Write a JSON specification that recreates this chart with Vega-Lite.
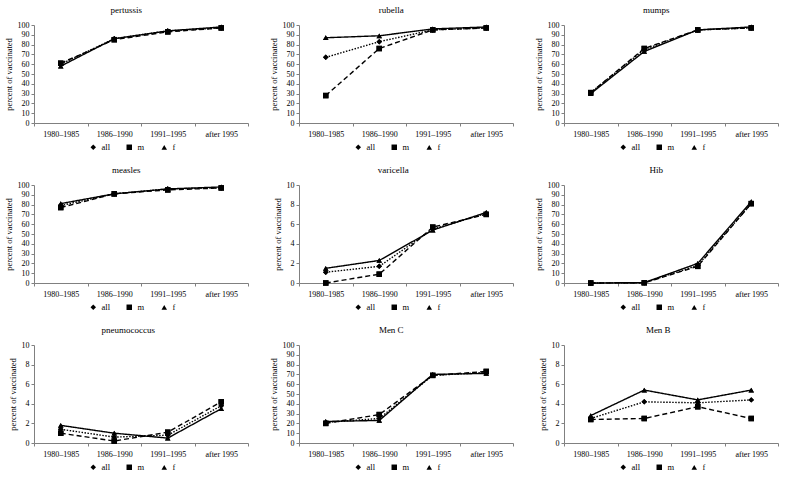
{
  "$schema": "https://vega.github.io/schema/vega-lite/v6.json",
  "description": "Vaccination coverage by birth cohort and sex",
  "padding": {"left": 4, "top": 6, "right": 4, "bottom": 2},
  "bounds": "flush",
  "columns": 3,
  "spacing": {"row": 62, "column": 51},
  "data": {
    "values": [
      {"vaccine": "pertussis", "period": "1980–1985", "group": "all", "pct": 60},
      {"vaccine": "pertussis", "period": "1986–1990", "group": "all", "pct": 86},
      {"vaccine": "pertussis", "period": "1991–1995", "group": "all", "pct": 94},
      {"vaccine": "pertussis", "period": "after 1995", "group": "all", "pct": 97},
      {"vaccine": "pertussis", "period": "1980–1985", "group": "m", "pct": 61},
      {"vaccine": "pertussis", "period": "1986–1990", "group": "m", "pct": 85},
      {"vaccine": "pertussis", "period": "1991–1995", "group": "m", "pct": 93},
      {"vaccine": "pertussis", "period": "after 1995", "group": "m", "pct": 97},
      {"vaccine": "pertussis", "period": "1980–1985", "group": "f", "pct": 58},
      {"vaccine": "pertussis", "period": "1986–1990", "group": "f", "pct": 86},
      {"vaccine": "pertussis", "period": "1991–1995", "group": "f", "pct": 94},
      {"vaccine": "pertussis", "period": "after 1995", "group": "f", "pct": 98},
      {"vaccine": "rubella", "period": "1980–1985", "group": "all", "pct": 67},
      {"vaccine": "rubella", "period": "1986–1990", "group": "all", "pct": 83},
      {"vaccine": "rubella", "period": "1991–1995", "group": "all", "pct": 95},
      {"vaccine": "rubella", "period": "after 1995", "group": "all", "pct": 97},
      {"vaccine": "rubella", "period": "1980–1985", "group": "m", "pct": 28},
      {"vaccine": "rubella", "period": "1986–1990", "group": "m", "pct": 76},
      {"vaccine": "rubella", "period": "1991–1995", "group": "m", "pct": 95},
      {"vaccine": "rubella", "period": "after 1995", "group": "m", "pct": 97},
      {"vaccine": "rubella", "period": "1980–1985", "group": "f", "pct": 87},
      {"vaccine": "rubella", "period": "1986–1990", "group": "f", "pct": 89},
      {"vaccine": "rubella", "period": "1991–1995", "group": "f", "pct": 96},
      {"vaccine": "rubella", "period": "after 1995", "group": "f", "pct": 98},
      {"vaccine": "mumps", "period": "1980–1985", "group": "all", "pct": 31},
      {"vaccine": "mumps", "period": "1986–1990", "group": "all", "pct": 75},
      {"vaccine": "mumps", "period": "1991–1995", "group": "all", "pct": 95},
      {"vaccine": "mumps", "period": "after 1995", "group": "all", "pct": 97},
      {"vaccine": "mumps", "period": "1980–1985", "group": "m", "pct": 31},
      {"vaccine": "mumps", "period": "1986–1990", "group": "m", "pct": 76},
      {"vaccine": "mumps", "period": "1991–1995", "group": "m", "pct": 95},
      {"vaccine": "mumps", "period": "after 1995", "group": "m", "pct": 97},
      {"vaccine": "mumps", "period": "1980–1985", "group": "f", "pct": 30},
      {"vaccine": "mumps", "period": "1986–1990", "group": "f", "pct": 73},
      {"vaccine": "mumps", "period": "1991–1995", "group": "f", "pct": 95},
      {"vaccine": "mumps", "period": "after 1995", "group": "f", "pct": 98},
      {"vaccine": "measles", "period": "1980–1985", "group": "all", "pct": 79},
      {"vaccine": "measles", "period": "1986–1990", "group": "all", "pct": 91},
      {"vaccine": "measles", "period": "1991–1995", "group": "all", "pct": 96},
      {"vaccine": "measles", "period": "after 1995", "group": "all", "pct": 97},
      {"vaccine": "measles", "period": "1980–1985", "group": "m", "pct": 77},
      {"vaccine": "measles", "period": "1986–1990", "group": "m", "pct": 91},
      {"vaccine": "measles", "period": "1991–1995", "group": "m", "pct": 95},
      {"vaccine": "measles", "period": "after 1995", "group": "m", "pct": 97},
      {"vaccine": "measles", "period": "1980–1985", "group": "f", "pct": 81},
      {"vaccine": "measles", "period": "1986–1990", "group": "f", "pct": 91},
      {"vaccine": "measles", "period": "1991–1995", "group": "f", "pct": 96},
      {"vaccine": "measles", "period": "after 1995", "group": "f", "pct": 98},
      {"vaccine": "varicella", "period": "1980–1985", "group": "all", "pct": 1.1},
      {"vaccine": "varicella", "period": "1986–1990", "group": "all", "pct": 1.7},
      {"vaccine": "varicella", "period": "1991–1995", "group": "all", "pct": 5.5},
      {"vaccine": "varicella", "period": "after 1995", "group": "all", "pct": 7.1},
      {"vaccine": "varicella", "period": "1980–1985", "group": "m", "pct": 0},
      {"vaccine": "varicella", "period": "1986–1990", "group": "m", "pct": 0.9},
      {"vaccine": "varicella", "period": "1991–1995", "group": "m", "pct": 5.7},
      {"vaccine": "varicella", "period": "after 1995", "group": "m", "pct": 7.0},
      {"vaccine": "varicella", "period": "1980–1985", "group": "f", "pct": 1.5},
      {"vaccine": "varicella", "period": "1986–1990", "group": "f", "pct": 2.3},
      {"vaccine": "varicella", "period": "1991–1995", "group": "f", "pct": 5.4},
      {"vaccine": "varicella", "period": "after 1995", "group": "f", "pct": 7.2},
      {"vaccine": "Hib", "period": "1980–1985", "group": "all", "pct": 0},
      {"vaccine": "Hib", "period": "1986–1990", "group": "all", "pct": 0.3},
      {"vaccine": "Hib", "period": "1991–1995", "group": "all", "pct": 18},
      {"vaccine": "Hib", "period": "after 1995", "group": "all", "pct": 81},
      {"vaccine": "Hib", "period": "1980–1985", "group": "m", "pct": 0},
      {"vaccine": "Hib", "period": "1986–1990", "group": "m", "pct": 0.2},
      {"vaccine": "Hib", "period": "1991–1995", "group": "m", "pct": 17},
      {"vaccine": "Hib", "period": "after 1995", "group": "m", "pct": 81},
      {"vaccine": "Hib", "period": "1980–1985", "group": "f", "pct": 0},
      {"vaccine": "Hib", "period": "1986–1990", "group": "f", "pct": 0.4},
      {"vaccine": "Hib", "period": "1991–1995", "group": "f", "pct": 20},
      {"vaccine": "Hib", "period": "after 1995", "group": "f", "pct": 83},
      {"vaccine": "pneumococcus", "period": "1980–1985", "group": "all", "pct": 1.4},
      {"vaccine": "pneumococcus", "period": "1986–1990", "group": "all", "pct": 0.6},
      {"vaccine": "pneumococcus", "period": "1991–1995", "group": "all", "pct": 0.8},
      {"vaccine": "pneumococcus", "period": "after 1995", "group": "all", "pct": 3.8},
      {"vaccine": "pneumococcus", "period": "1980–1985", "group": "m", "pct": 1.0},
      {"vaccine": "pneumococcus", "period": "1986–1990", "group": "m", "pct": 0.2},
      {"vaccine": "pneumococcus", "period": "1991–1995", "group": "m", "pct": 1.1},
      {"vaccine": "pneumococcus", "period": "after 1995", "group": "m", "pct": 4.2},
      {"vaccine": "pneumococcus", "period": "1980–1985", "group": "f", "pct": 1.8},
      {"vaccine": "pneumococcus", "period": "1986–1990", "group": "f", "pct": 1.0},
      {"vaccine": "pneumococcus", "period": "1991–1995", "group": "f", "pct": 0.5},
      {"vaccine": "pneumococcus", "period": "after 1995", "group": "f", "pct": 3.5},
      {"vaccine": "Men C", "period": "1980–1985", "group": "all", "pct": 21},
      {"vaccine": "Men C", "period": "1986–1990", "group": "all", "pct": 25},
      {"vaccine": "Men C", "period": "1991–1995", "group": "all", "pct": 69},
      {"vaccine": "Men C", "period": "after 1995", "group": "all", "pct": 72},
      {"vaccine": "Men C", "period": "1980–1985", "group": "m", "pct": 20},
      {"vaccine": "Men C", "period": "1986–1990", "group": "m", "pct": 29},
      {"vaccine": "Men C", "period": "1991–1995", "group": "m", "pct": 69},
      {"vaccine": "Men C", "period": "after 1995", "group": "m", "pct": 73},
      {"vaccine": "Men C", "period": "1980–1985", "group": "f", "pct": 22},
      {"vaccine": "Men C", "period": "1986–1990", "group": "f", "pct": 23},
      {"vaccine": "Men C", "period": "1991–1995", "group": "f", "pct": 70},
      {"vaccine": "Men C", "period": "after 1995", "group": "f", "pct": 71},
      {"vaccine": "Men B", "period": "1980–1985", "group": "all", "pct": 2.5},
      {"vaccine": "Men B", "period": "1986–1990", "group": "all", "pct": 4.2},
      {"vaccine": "Men B", "period": "1991–1995", "group": "all", "pct": 4.1},
      {"vaccine": "Men B", "period": "after 1995", "group": "all", "pct": 4.4},
      {"vaccine": "Men B", "period": "1980–1985", "group": "m", "pct": 2.4},
      {"vaccine": "Men B", "period": "1986–1990", "group": "m", "pct": 2.5},
      {"vaccine": "Men B", "period": "1991–1995", "group": "m", "pct": 3.7},
      {"vaccine": "Men B", "period": "after 1995", "group": "m", "pct": 2.5},
      {"vaccine": "Men B", "period": "1980–1985", "group": "f", "pct": 2.8},
      {"vaccine": "Men B", "period": "1986–1990", "group": "f", "pct": 5.4},
      {"vaccine": "Men B", "period": "1991–1995", "group": "f", "pct": 4.4},
      {"vaccine": "Men B", "period": "after 1995", "group": "f", "pct": 5.4}
    ]
  },
  "concat": [
    {
      "title": "pertussis",
      "width": 214, "height": 98,
      "transform": [{"filter": "datum.vaccine === 'pertussis'"}],
      "encoding": {
        "x": {"field": "period", "type": "ordinal", "sort": ["1980–1985", "1986–1990", "1991–1995", "after 1995"], "scale": {"type": "band", "paddingInner": 0, "paddingOuter": 0}, "bandPosition": 0.5, "axis": {"title": null, "labelAngle": 0, "tickBand": "extent"}},
        "y": {"field": "pct", "type": "quantitative", "scale": {"domain": [0, 100]}, "axis": {"values": [0, 10, 20, 30, 40, 50, 60, 70, 80, 90, 100], "title": "percent of vaccinated"}},
        "strokeDash": {"field": "group", "type": "nominal", "scale": {"domain": ["all", "m", "f"], "range": [[1.5, 1.5], [5, 3], [1, 0]]}, "legend": {"title": null}},
        "shape": {"field": "group", "type": "nominal", "scale": {"domain": ["all", "m", "f"], "range": ["diamond", "square", "triangle-up"]}, "legend": {"title": null}}
      },
      "layer": [
        {"mark": {"type": "line", "color": "black", "strokeWidth": 1.4}},
        {"mark": {"type": "point", "filled": true, "color": "black", "size": 30, "opacity": 1}}
      ]
    },
    {
      "title": "rubella",
      "width": 214, "height": 98,
      "transform": [{"filter": "datum.vaccine === 'rubella'"}],
      "encoding": {
        "x": {"field": "period", "type": "ordinal", "sort": ["1980–1985", "1986–1990", "1991–1995", "after 1995"], "scale": {"type": "band", "paddingInner": 0, "paddingOuter": 0}, "bandPosition": 0.5, "axis": {"title": null, "labelAngle": 0, "tickBand": "extent"}},
        "y": {"field": "pct", "type": "quantitative", "scale": {"domain": [0, 100]}, "axis": {"values": [0, 10, 20, 30, 40, 50, 60, 70, 80, 90, 100], "title": "percent of vaccinated"}},
        "strokeDash": {"field": "group", "type": "nominal", "scale": {"domain": ["all", "m", "f"], "range": [[1.5, 1.5], [5, 3], [1, 0]]}, "legend": {"title": null}},
        "shape": {"field": "group", "type": "nominal", "scale": {"domain": ["all", "m", "f"], "range": ["diamond", "square", "triangle-up"]}, "legend": {"title": null}}
      },
      "layer": [
        {"mark": {"type": "line", "color": "black", "strokeWidth": 1.4}},
        {"mark": {"type": "point", "filled": true, "color": "black", "size": 30, "opacity": 1}}
      ]
    },
    {
      "title": "mumps",
      "width": 214, "height": 98,
      "transform": [{"filter": "datum.vaccine === 'mumps'"}],
      "encoding": {
        "x": {"field": "period", "type": "ordinal", "sort": ["1980–1985", "1986–1990", "1991–1995", "after 1995"], "scale": {"type": "band", "paddingInner": 0, "paddingOuter": 0}, "bandPosition": 0.5, "axis": {"title": null, "labelAngle": 0, "tickBand": "extent"}},
        "y": {"field": "pct", "type": "quantitative", "scale": {"domain": [0, 100]}, "axis": {"values": [0, 10, 20, 30, 40, 50, 60, 70, 80, 90, 100], "title": "percent of vaccinated"}},
        "strokeDash": {"field": "group", "type": "nominal", "scale": {"domain": ["all", "m", "f"], "range": [[1.5, 1.5], [5, 3], [1, 0]]}, "legend": {"title": null}},
        "shape": {"field": "group", "type": "nominal", "scale": {"domain": ["all", "m", "f"], "range": ["diamond", "square", "triangle-up"]}, "legend": {"title": null}}
      },
      "layer": [
        {"mark": {"type": "line", "color": "black", "strokeWidth": 1.4}},
        {"mark": {"type": "point", "filled": true, "color": "black", "size": 30, "opacity": 1}}
      ]
    },
    {
      "title": "measles",
      "width": 214, "height": 98,
      "transform": [{"filter": "datum.vaccine === 'measles'"}],
      "encoding": {
        "x": {"field": "period", "type": "ordinal", "sort": ["1980–1985", "1986–1990", "1991–1995", "after 1995"], "scale": {"type": "band", "paddingInner": 0, "paddingOuter": 0}, "bandPosition": 0.5, "axis": {"title": null, "labelAngle": 0, "tickBand": "extent"}},
        "y": {"field": "pct", "type": "quantitative", "scale": {"domain": [0, 100]}, "axis": {"values": [0, 10, 20, 30, 40, 50, 60, 70, 80, 90, 100], "title": "percent of vaccinated"}},
        "strokeDash": {"field": "group", "type": "nominal", "scale": {"domain": ["all", "m", "f"], "range": [[1.5, 1.5], [5, 3], [1, 0]]}, "legend": {"title": null}},
        "shape": {"field": "group", "type": "nominal", "scale": {"domain": ["all", "m", "f"], "range": ["diamond", "square", "triangle-up"]}, "legend": {"title": null}}
      },
      "layer": [
        {"mark": {"type": "line", "color": "black", "strokeWidth": 1.4}},
        {"mark": {"type": "point", "filled": true, "color": "black", "size": 30, "opacity": 1}}
      ]
    },
    {
      "title": "varicella",
      "width": 214, "height": 98,
      "transform": [{"filter": "datum.vaccine === 'varicella'"}],
      "encoding": {
        "x": {"field": "period", "type": "ordinal", "sort": ["1980–1985", "1986–1990", "1991–1995", "after 1995"], "scale": {"type": "band", "paddingInner": 0, "paddingOuter": 0}, "bandPosition": 0.5, "axis": {"title": null, "labelAngle": 0, "tickBand": "extent"}},
        "y": {"field": "pct", "type": "quantitative", "scale": {"domain": [0, 10]}, "axis": {"values": [0, 2, 4, 6, 8, 10], "title": "percent of vaccinated"}},
        "strokeDash": {"field": "group", "type": "nominal", "scale": {"domain": ["all", "m", "f"], "range": [[1.5, 1.5], [5, 3], [1, 0]]}, "legend": {"title": null}},
        "shape": {"field": "group", "type": "nominal", "scale": {"domain": ["all", "m", "f"], "range": ["diamond", "square", "triangle-up"]}, "legend": {"title": null}}
      },
      "layer": [
        {"mark": {"type": "line", "color": "black", "strokeWidth": 1.4}},
        {"mark": {"type": "point", "filled": true, "color": "black", "size": 30, "opacity": 1}}
      ]
    },
    {
      "title": "Hib",
      "width": 214, "height": 98,
      "transform": [{"filter": "datum.vaccine === 'Hib'"}],
      "encoding": {
        "x": {"field": "period", "type": "ordinal", "sort": ["1980–1985", "1986–1990", "1991–1995", "after 1995"], "scale": {"type": "band", "paddingInner": 0, "paddingOuter": 0}, "bandPosition": 0.5, "axis": {"title": null, "labelAngle": 0, "tickBand": "extent"}},
        "y": {"field": "pct", "type": "quantitative", "scale": {"domain": [0, 100]}, "axis": {"values": [0, 10, 20, 30, 40, 50, 60, 70, 80, 90, 100], "title": "percent of vaccinated"}},
        "strokeDash": {"field": "group", "type": "nominal", "scale": {"domain": ["all", "m", "f"], "range": [[1.5, 1.5], [5, 3], [1, 0]]}, "legend": {"title": null}},
        "shape": {"field": "group", "type": "nominal", "scale": {"domain": ["all", "m", "f"], "range": ["diamond", "square", "triangle-up"]}, "legend": {"title": null}}
      },
      "layer": [
        {"mark": {"type": "line", "color": "black", "strokeWidth": 1.4}},
        {"mark": {"type": "point", "filled": true, "color": "black", "size": 30, "opacity": 1}}
      ]
    },
    {
      "title": "pneumococcus",
      "width": 214, "height": 98,
      "transform": [{"filter": "datum.vaccine === 'pneumococcus'"}],
      "encoding": {
        "x": {"field": "period", "type": "ordinal", "sort": ["1980–1985", "1986–1990", "1991–1995", "after 1995"], "scale": {"type": "band", "paddingInner": 0, "paddingOuter": 0}, "bandPosition": 0.5, "axis": {"title": null, "labelAngle": 0, "tickBand": "extent"}},
        "y": {"field": "pct", "type": "quantitative", "scale": {"domain": [0, 10]}, "axis": {"values": [0, 2, 4, 6, 8, 10], "title": "percent of vaccinated"}},
        "strokeDash": {"field": "group", "type": "nominal", "scale": {"domain": ["all", "m", "f"], "range": [[1.5, 1.5], [5, 3], [1, 0]]}, "legend": {"title": null}},
        "shape": {"field": "group", "type": "nominal", "scale": {"domain": ["all", "m", "f"], "range": ["diamond", "square", "triangle-up"]}, "legend": {"title": null}}
      },
      "layer": [
        {"mark": {"type": "line", "color": "black", "strokeWidth": 1.4}},
        {"mark": {"type": "point", "filled": true, "color": "black", "size": 30, "opacity": 1}}
      ]
    },
    {
      "title": "Men C",
      "width": 214, "height": 98,
      "transform": [{"filter": "datum.vaccine === 'Men C'"}],
      "encoding": {
        "x": {"field": "period", "type": "ordinal", "sort": ["1980–1985", "1986–1990", "1991–1995", "after 1995"], "scale": {"type": "band", "paddingInner": 0, "paddingOuter": 0}, "bandPosition": 0.5, "axis": {"title": null, "labelAngle": 0, "tickBand": "extent"}},
        "y": {"field": "pct", "type": "quantitative", "scale": {"domain": [0, 100]}, "axis": {"values": [0, 10, 20, 30, 40, 50, 60, 70, 80, 90, 100], "title": "percent of vaccinated"}},
        "strokeDash": {"field": "group", "type": "nominal", "scale": {"domain": ["all", "m", "f"], "range": [[1.5, 1.5], [5, 3], [1, 0]]}, "legend": {"title": null}},
        "shape": {"field": "group", "type": "nominal", "scale": {"domain": ["all", "m", "f"], "range": ["diamond", "square", "triangle-up"]}, "legend": {"title": null}}
      },
      "layer": [
        {"mark": {"type": "line", "color": "black", "strokeWidth": 1.4}},
        {"mark": {"type": "point", "filled": true, "color": "black", "size": 30, "opacity": 1}}
      ]
    },
    {
      "title": "Men B",
      "width": 214, "height": 98,
      "transform": [{"filter": "datum.vaccine === 'Men B'"}],
      "encoding": {
        "x": {"field": "period", "type": "ordinal", "sort": ["1980–1985", "1986–1990", "1991–1995", "after 1995"], "scale": {"type": "band", "paddingInner": 0, "paddingOuter": 0}, "bandPosition": 0.5, "axis": {"title": null, "labelAngle": 0, "tickBand": "extent"}},
        "y": {"field": "pct", "type": "quantitative", "scale": {"domain": [0, 10]}, "axis": {"values": [0, 2, 4, 6, 8, 10], "title": "percent of vaccinated"}},
        "strokeDash": {"field": "group", "type": "nominal", "scale": {"domain": ["all", "m", "f"], "range": [[1.5, 1.5], [5, 3], [1, 0]]}, "legend": {"title": null}},
        "shape": {"field": "group", "type": "nominal", "scale": {"domain": ["all", "m", "f"], "range": ["diamond", "square", "triangle-up"]}, "legend": {"title": null}}
      },
      "layer": [
        {"mark": {"type": "line", "color": "black", "strokeWidth": 1.4}},
        {"mark": {"type": "point", "filled": true, "color": "black", "size": 30, "opacity": 1}}
      ]
    }
  ],
  "resolve": {"legend": {"shape": "independent", "strokeDash": "independent"}},
  "config": {
    "font": "Liberation Serif",
    "view": {"stroke": null},
    "mark": {"color": "black"},
    "axis": {
      "grid": false,
      "domainColor": "#808080",
      "tickColor": "#808080",
      "tickSize": 3,
      "labelColor": "#000",
      "labelFontSize": 8,
      "labelPadding": 2,
      "titleColor": "#000",
      "titleFontSize": 8.5,
      "titleFontWeight": "normal",
      "titlePadding": 4
    },
    "axisX": {"labelPadding": 4},
    "title": {"fontSize": 9, "fontWeight": "normal", "color": "#000", "anchor": "middle", "frame": "bounds", "offset": 6},
    "legend": {
      "orient": "none",
      "legendX": 55,
      "legendY": 118,
      "direction": "horizontal",
      "labelFontSize": 8.5,
      "labelColor": "#000",
      "symbolFillColor": "black",
      "symbolStrokeColor": "black",
      "symbolStrokeWidth": 1,
      "symbolSize": 30,
      "columnPadding": 14,
      "labelOffset": 4
    }
  }
}
